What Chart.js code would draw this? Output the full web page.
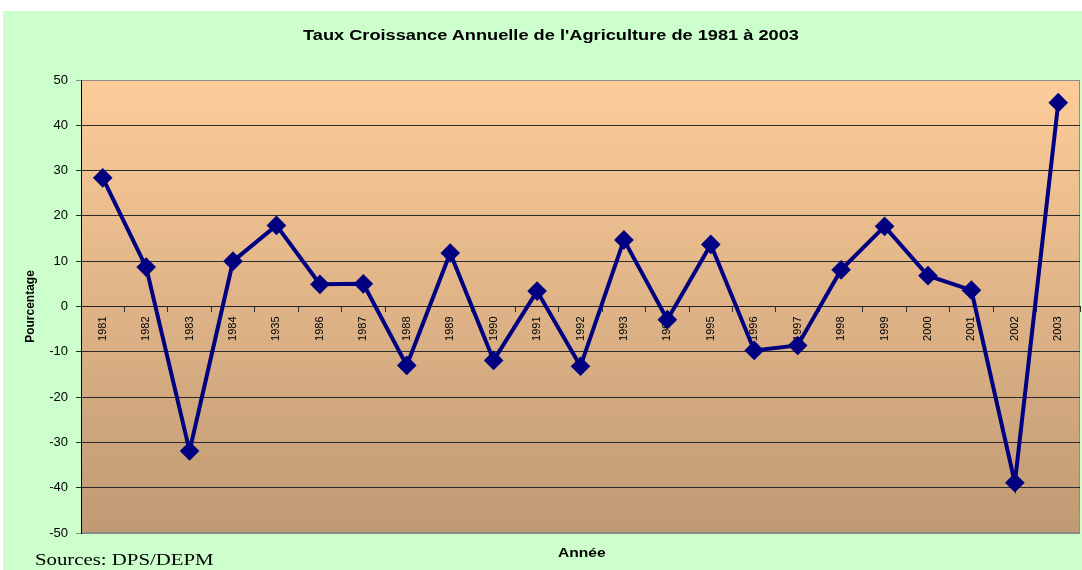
<!DOCTYPE html>
<html>
<head>
<meta charset="utf-8">
<script src="https://cdn.jsdelivr.net/npm/chart.js@4.4.0/dist/chart.umd.min.js"></script>
<style>
    body { margin: 0; background: #ffffff; }
    #wrap { position: absolute; left: 3px; top: 11px; width: 1079px; height: 559px; background: #ccffcc; }
    .txt { position: absolute; white-space: nowrap; transform-origin: 0 0; transform: scaleX(1.3); color: #000; }
    #title { left: 300px; top: 16px; font: bold 14px "Liberation Sans", Arial, sans-serif; }
    #xtitle { left: 555px; top: 535px; font: bold 12px "Liberation Sans", Arial, sans-serif; }
    #source { left: 32px; top: 540px; font: 16px "Liberation Serif", "Times New Roman", serif; }
</style>
</head>
<body>
<div id="wrap">
    <canvas id="chart" width="1079" height="559"></canvas>
    <div class="txt" id="title">Taux Croissance Annuelle de l'Agriculture de 1981 à 2003</div>
    <div class="txt" id="xtitle">Année</div>
    <div class="txt" id="source">Sources: DPS/DEPM</div>
</div>
<script>
// Data
var years = ["1981", "1982", "1983", "1984", "1935", "1986", "1987", "1988", "1989", "1990", "1991", "1992",
    "1993", "1994", "1995", "1996", "1997", "1998", "1999", "2000", "2001", "2002", "2003"];
var growth = [28.4, 8.7, -31.9, 10.0, 17.9, 4.9, 5.0, -13.0, 11.8, -11.9, 3.4, -13.2,
    14.7, -2.9, 13.7, -9.7, -8.6, 8.1, 17.7, 6.8, 3.6, -38.9, 45.0];
var yTicks = [-50, -40, -30, -20, -10, 0, 10, 20, 30, 40, 50];

// Plot background: gradient + grey frame
var plotBackground = {
    id: "plotBackground",
    beforeDraw: function (chart) {
        var a = chart.chartArea;
        var ctx = chart.ctx;
        var grad = ctx.createLinearGradient(0, a.top, 0, a.bottom);
        grad.addColorStop(0, "#fdcc99");
        grad.addColorStop(1, "#c09a74");
        ctx.save();
        ctx.fillStyle = grad;
        ctx.fillRect(a.left, a.top, a.right - a.left, a.bottom - a.top);
        ctx.strokeStyle = "#8c8c8c";
        ctx.lineWidth = 1;
        ctx.strokeRect(a.left + 0.5, a.top + 0.5, a.right - a.left - 1, a.bottom - a.top - 1);
        ctx.restore();
    }
};

function noPad(scale) {
    scale.paddingLeft = 0;
    scale.paddingRight = 0;
    scale.paddingTop = 0;
    scale.paddingBottom = 0;
}

var chart = new Chart(document.getElementById("chart").getContext("2d"), {
    type: "line",
    data: {
        labels: years,
        datasets: [{
            data: growth,
            borderColor: "#000080",
            backgroundColor: "#000080",
            borderWidth: 4,
            pointStyle: "rectRot",
            pointRadius: 7,
            pointHoverRadius: 7,
            tension: 0
        }]
    },
    options: {
        responsive: false,
        animation: false,
        layout: { autoPadding: false, padding: { left: 18, right: 2, bottom: 37, top: 69 } },
        plugins: {
            legend: { display: false },
            tooltip: { enabled: false },
            title: { display: false }
        },
        scales: {
            x: {
                position: { y: 0 },
                offset: true,
                afterFit: noPad,
                grid: { drawOnChartArea: false, offset: true, tickLength: 5, color: "#333" },
                border: { color: "#222", width: 1 },
                ticks: {
                    color: "#000",
                    font: { family: "Liberation Sans", size: 11 },
                    minRotation: 90,
                    maxRotation: 90,
                    autoSkip: false,
                    padding: 5
                }
            },
            y: {
                min: -50,
                max: 50,
                afterBuildTicks: function (scale) {
                    scale.ticks = yTicks.map(function (v) { return { value: v }; });
                },
                afterFit: function (scale) { scale.width = 60; noPad(scale); },
                grid: {
                    tickLength: 5,
                    color: function (c) {
                        return (c.tick && Math.abs(c.tick.value) === 50) ? "#8c8c8c" : "#2a2a2a";
                    }
                },
                border: { color: "#000", width: 1 },
                ticks: {
                    color: "#000",
                    font: { family: "Liberation Sans", size: 13 },
                    padding: 8
                },
                title: {
                    display: true,
                    text: "Pourcentage",
                    color: "#000",
                    font: { family: "Liberation Sans", size: 12, weight: "bold" },
                    padding: 2
                }
            }
        }
    },
    plugins: [plotBackground]
});
</script>
</body>
</html>
